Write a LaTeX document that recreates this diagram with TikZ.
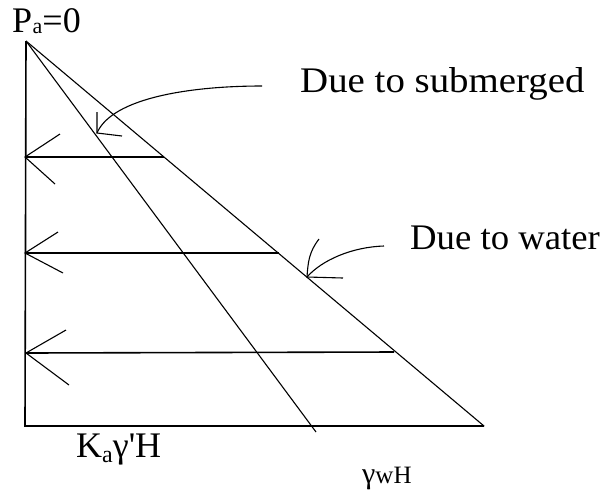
\documentclass[tikz,border=0pt]{standalone}
\usepackage{fontspec}
\setmainfont{Liberation Serif}[Ligatures=TeXOff]
\begin{document}
\begin{tikzpicture}[x=1pt,y=-1pt,
  wall/.style={line width=1.6pt},
  diag/.style={line width=1.1pt},
  head/.style={line width=1.1pt},
  lbl/.style={inner sep=0pt, anchor=base west, font=\fontsize{36}{40}\selectfont}]
\useasboundingbox (0,0) rectangle (604,491);
% frame
\coordinate (top) at (26,41);
\coordinate (bl) at (25,426);
\coordinate (br) at (484,426);
\coordinate (inner) at (316,432);
\draw[wall] (top) -- (bl) -- (br);
\draw[diag] (top) -- (br);
\draw[diag] (top) -- (inner);
% horizontal pressure arrows
\coordinate (h1) at (164,157); \coordinate (t1) at (25,157);
\coordinate (h2) at (279,253); \coordinate (t2) at (25,253);
\coordinate (h3) at (394,352); \coordinate (t3) at (26,353);
\draw[wall] (h1) -- (t1);
\draw[wall] (h2) -- (t2);
\draw[wall] (h3) -- (t3);
\draw[head] (60,134) -- (t1) -- (55,184);
\draw[head] (58,232) -- (t2) -- (63,273);
\draw[head] (66,330) -- (t3) -- (69,385);
% labels
\node[lbl] (pa) at (12,32) {P\kern0.5pt\raisebox{-1pt}{\fontsize{22}{24}\selectfont a}=0};
\node[lbl] (sub) at (300,92) {\scalebox{1.08}[1]{Due to submerged}};
\node[lbl] (wat) at (410,249) {\scalebox{1.02}[1]{Due to water}};
\node[lbl] (ka) at (76,457) {K\raisebox{-5pt}{\fontsize{24}{26}\selectfont a}γ'H};
\node[inner sep=0pt, anchor=base west] (gw) at (362,483) {\fontsize{30}{30}\selectfont γ\fontsize{25}{27}\selectfont wH};
% curved pointer arrows
\coordinate (s0) at (262,86);
\coordinate (stip) at (97,133);
\draw[head] (s0) .. controls (190,86) and (112,98) .. (stip);
\draw[head] (97,112) -- (stip) -- (122,136);
\coordinate (w0) at (384,246);
\coordinate (wtip) at (307,277);
\draw[head] (w0) .. controls (352,247) and (322,260) .. (wtip);
\draw[head] (319,239) .. controls (309,252) and (308,262) .. (wtip) -- (343,278);
\end{tikzpicture}
\end{document}
